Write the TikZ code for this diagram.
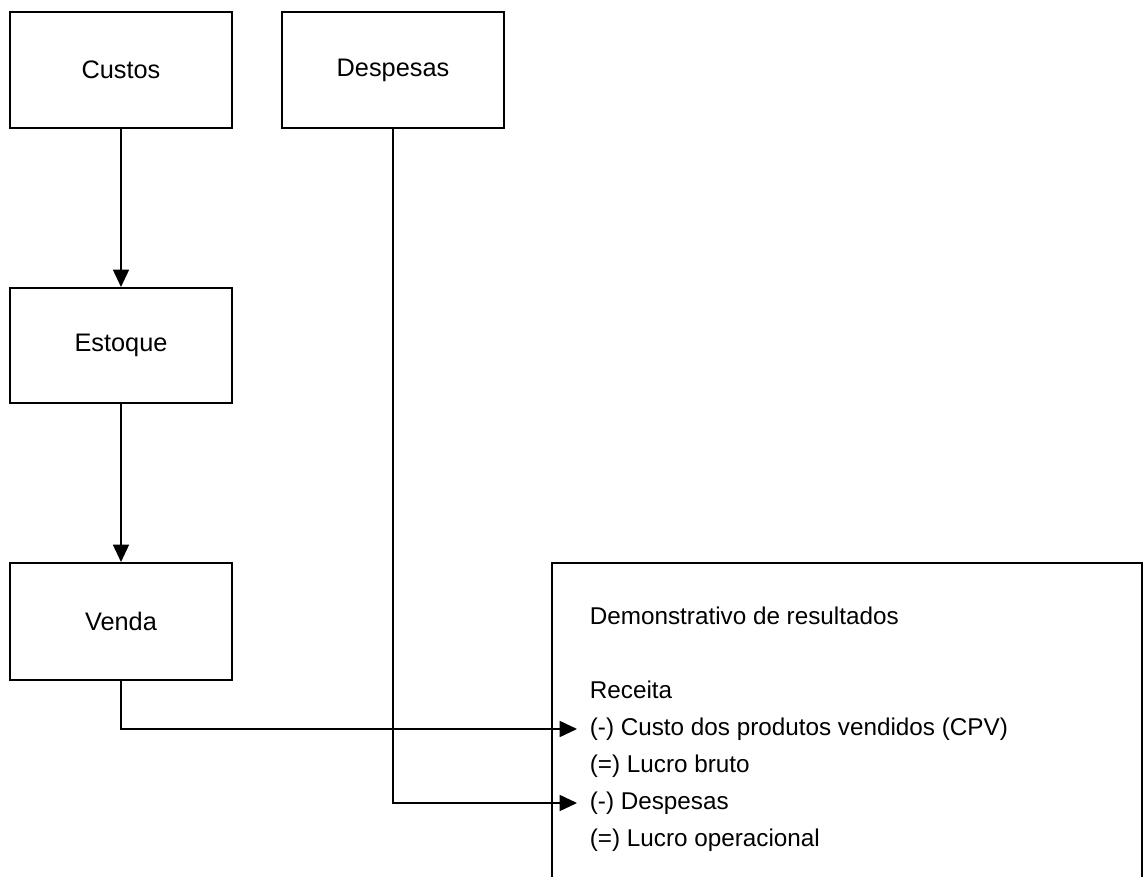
\documentclass[tikz,border=0pt]{standalone}
\usepackage{fontspec}
\setmainfont{Liberation Sans}
\usepackage{xcolor}
\usepackage{tikz}
\usetikzlibrary{arrows.meta}

\begin{document}
\begin{tikzpicture}[x=0.75pt, y=-0.75pt, line width=1.3pt,
        conta/.style={rectangle, draw, minimum width=166.5pt,
        minimum height=86.5pt, font=\fontsize{19}{23}\selectfont},
        linha/.style={anchor=base west, inner sep=0pt,
        text height=0.9em, text depth=0em,
        font=\fontsize{18.2}{22}\selectfont},
        seta/.style={-{Triangle[length=13pt, width=12pt]}}]
        \useasboundingbox (0,0) rectangle (1143,877);
        \clip (0,0) rectangle (1143,877);

        \node[conta] (custos) at (121,70) {Custos};
        \node[conta, minimum width=167pt] (despesas) at (393,70) {Despesas};
        \node[conta] (estoque) at (121,345.5) {Estoque};
        \node[conta, minimum height=88pt] (venda) at (121,621.5) {Venda};

        % demonstrativo
        \draw (552,877) |- (1142,563) -- (1142,877);
        \node[linha] (titulo) at (589,624) {Demonstrativo de resultados};
        \node[linha] (receita) at (589,698) {Receita};
        \node[linha] (cpv) at (589,735) {(-) Custo dos produtos vendidos (CPV)};
        \node[linha] (bruto) at (589,772) {(=) Lucro bruto};
        \node[linha] (desp) at (589,809) {(-) Despesas};
        \node[linha] (oper) at (589,846) {(=) Lucro operacional};

        \draw[seta] (custos) -- (estoque);
        \draw[seta] (estoque) -- (venda);
        \draw[seta] (venda.south) |- ([xshift=-9pt]cpv.west);
        \draw[seta] (despesas.south) |- ([xshift=-9pt]desp.west);
    \end{tikzpicture}
\end{document}
